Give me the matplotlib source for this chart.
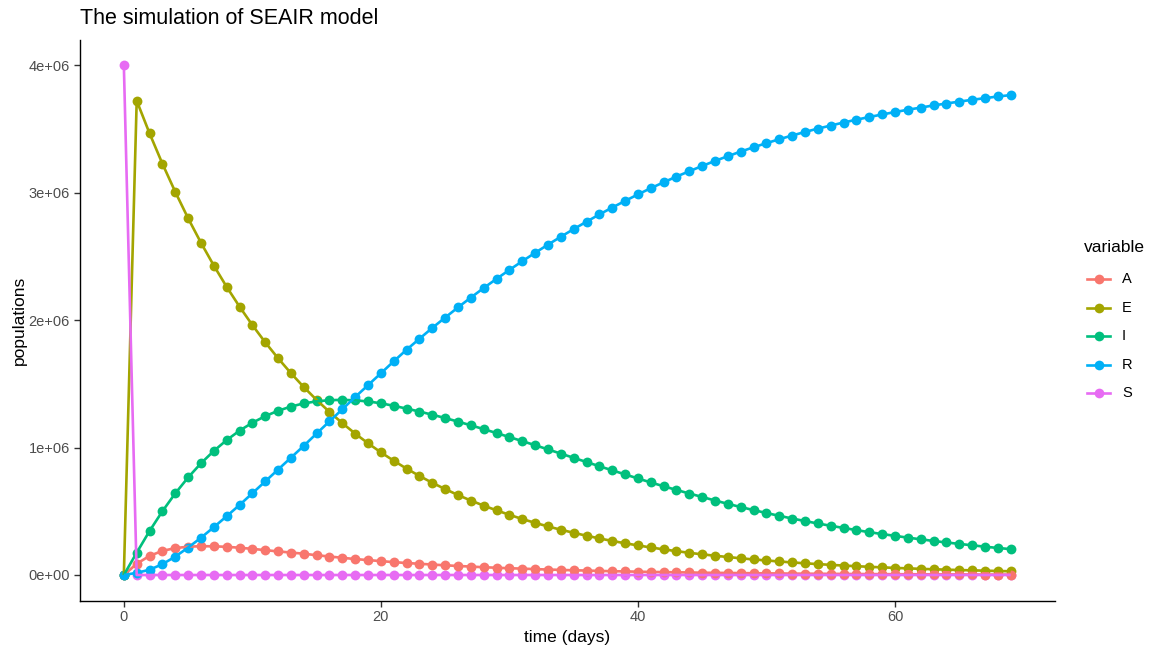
import numpy as np
import matplotlib
matplotlib.use("Agg")
import matplotlib.pyplot as plt
from matplotlib.lines import Line2D

plt.rcParams['font.family'] = ['Liberation Sans', 'DejaVu Sans']

# Daily output of the SEAIR simulation (populations in millions)
days = list(range(70))

S_values = [4.0] + [0.0] * 69

E_values = [0.0, 3.720, 3.464, 3.226, 3.005, 2.798, 2.606, 2.427, 2.260, 2.105,
            1.960, 1.825, 1.700, 1.583, 1.474, 1.373, 1.279, 1.191, 1.109, 1.033,
            0.962, 0.896, 0.834, 0.777, 0.723, 0.674, 0.627, 0.584, 0.544, 0.507,
            0.472, 0.439, 0.409, 0.381, 0.355, 0.331, 0.308, 0.287, 0.267, 0.249,
            0.232, 0.216, 0.201, 0.187, 0.174, 0.162, 0.151, 0.141, 0.131, 0.122,
            0.114, 0.106, 0.0986, 0.0918, 0.0855, 0.0796, 0.0741, 0.0690, 0.0643, 0.0599,
            0.0558, 0.0519, 0.0484, 0.0450, 0.0419, 0.0391, 0.0364, 0.0339, 0.0315, 0.0294]

A_values = [0.0, 0.088, 0.150, 0.189, 0.211, 0.222, 0.226, 0.225, 0.221, 0.214,
            0.205, 0.195, 0.185, 0.176, 0.167, 0.155, 0.145, 0.135, 0.125, 0.117,
            0.109, 0.101, 0.094, 0.088, 0.082, 0.076, 0.071, 0.066, 0.061, 0.057,
            0.053, 0.050, 0.046, 0.043, 0.040, 0.037, 0.035, 0.032, 0.030, 0.028,
            0.026, 0.024, 0.023, 0.021, 0.020, 0.018, 0.017, 0.016, 0.015, 0.014,
            0.013, 0.012, 0.011, 0.0104, 0.0097, 0.0090, 0.0084, 0.0078, 0.0073, 0.0068,
            0.0063, 0.0059, 0.0055, 0.0051, 0.0047, 0.0044, 0.0041, 0.0038, 0.0036, 0.0033]

I_values = [0.0, 0.175, 0.345, 0.500, 0.640, 0.765, 0.876, 0.973, 1.058, 1.132,
            1.194, 1.246, 1.288, 1.321, 1.346, 1.362, 1.371, 1.374, 1.370, 1.361,
            1.347, 1.327, 1.305, 1.282, 1.257, 1.231, 1.203, 1.174, 1.144, 1.113,
            1.082, 1.050, 1.018, 0.985, 0.952, 0.919, 0.886, 0.853, 0.821, 0.789,
            0.757, 0.726, 0.696, 0.667, 0.639, 0.612, 0.584, 0.558, 0.533, 0.509,
            0.486, 0.464, 0.443, 0.423, 0.404, 0.386, 0.369, 0.352, 0.336, 0.321,
            0.307, 0.293, 0.280, 0.267, 0.255, 0.244, 0.233, 0.222, 0.212, 0.203]

R_values = [0.0, 0.017, 0.041, 0.085, 0.144, 0.215, 0.292, 0.375, 0.461, 0.549,
            0.641, 0.734, 0.827, 0.920, 1.013, 1.110, 1.205, 1.300, 1.396, 1.489,
            1.582, 1.676, 1.767, 1.853, 1.938, 2.019, 2.099, 2.176, 2.251, 2.323,
            2.393, 2.461, 2.527, 2.591, 2.653, 2.713, 2.771, 2.828, 2.882, 2.934,
            2.985, 3.034, 3.080, 3.125, 3.167, 3.208, 3.248, 3.285, 3.321, 3.355,
            3.387, 3.418, 3.447, 3.475, 3.501, 3.525, 3.549, 3.571, 3.592, 3.612,
            3.631, 3.649, 3.666, 3.683, 3.698, 3.713, 3.727, 3.740, 3.753, 3.764]

variables = ["A", "E", "I", "R", "S"]
series = {"A": A_values, "E": E_values, "I": I_values, "R": R_values, "S": S_values}
colors = {"A": "#F8766D", "E": "#A3A500", "I": "#00BF7D", "R": "#00B0F6", "S": "#E76BF3"}
point_order = ["S", "E", "A", "I", "R"]

x_ticks = [0, 20, 40, 60]
y_ticks = [0, 1e6, 2e6, 3e6, 4e6]
y_tick_labels = ["0e+00", "1e+06", "2e+06", "3e+06", "4e+06"]

W, H = 1150, 651
fig = plt.figure(figsize=(W / 100, H / 100), dpi=100)
ax = fig.add_axes([79.5 / W, 1 - 600.5 / H, (1055 - 79.5) / W, (600.5 - 39.5) / H])

t = np.array(days)
# points first, then connecting lines on top
for name in point_order:
    ax.scatter(t, np.array(series[name]) * 1e6, s=50, color=colors[name],
               linewidths=0, zorder=2)
for name in variables:
    ax.plot(t, np.array(series[name]) * 1e6, color=colors[name], lw=1.9,
            zorder=3, solid_capstyle="butt")

xmin, xmax = 0, 69
xpad = (xmax - xmin) * 0.05
ax.set_xlim(xmin - xpad, xmax + xpad)
ax.set_ylim(-0.05 * 4e6, 4e6 * 1.05)
ax.set_xticks(x_ticks)
ax.set_yticks(y_ticks)
ax.set_yticklabels(y_tick_labels)

for side in ["top", "right"]:
    ax.spines[side].set_visible(False)
for side in ["left", "bottom"]:
    ax.spines[side].set_color("black")
    ax.spines[side].set_linewidth(1.0)
ax.tick_params(axis="both", length=4, width=1.0, color="#333333",
               labelsize=10.5, labelcolor="#4D4D4D", pad=3)

ax.set_xlabel("time (days)", fontsize=12.5, color="black", labelpad=4)
ax.set_ylabel("populations", fontsize=12.5, color="black", labelpad=1)
fig.text(80 / W, 1 - 19 / H, "The simulation of SEAIR model", fontsize=15.5,
         ha="left", va="center", color="black")

# legend
def fx(px):
    return px / W

def fy(py):
    return 1 - py / H

fig.text(fx(1084), fy(248), "variable", fontsize=12.5, ha="left", va="center")
for i, name in enumerate(variables):
    yy = 279 + i * 28.6
    fig.add_artist(Line2D([fx(1087), fx(1110)], [fy(yy), fy(yy)], color=colors[name],
                          lw=1.9, transform=fig.transFigure))
    fig.add_artist(Line2D([fx(1098.5)], [fy(yy)], marker="o", markersize=7,
                          markeredgewidth=0, color=colors[name],
                          transform=fig.transFigure))
    fig.text(fx(1122), fy(yy), name, fontsize=10.5, ha="left", va="center",
             color="black")

fig.savefig("out.png", dpi=100)
